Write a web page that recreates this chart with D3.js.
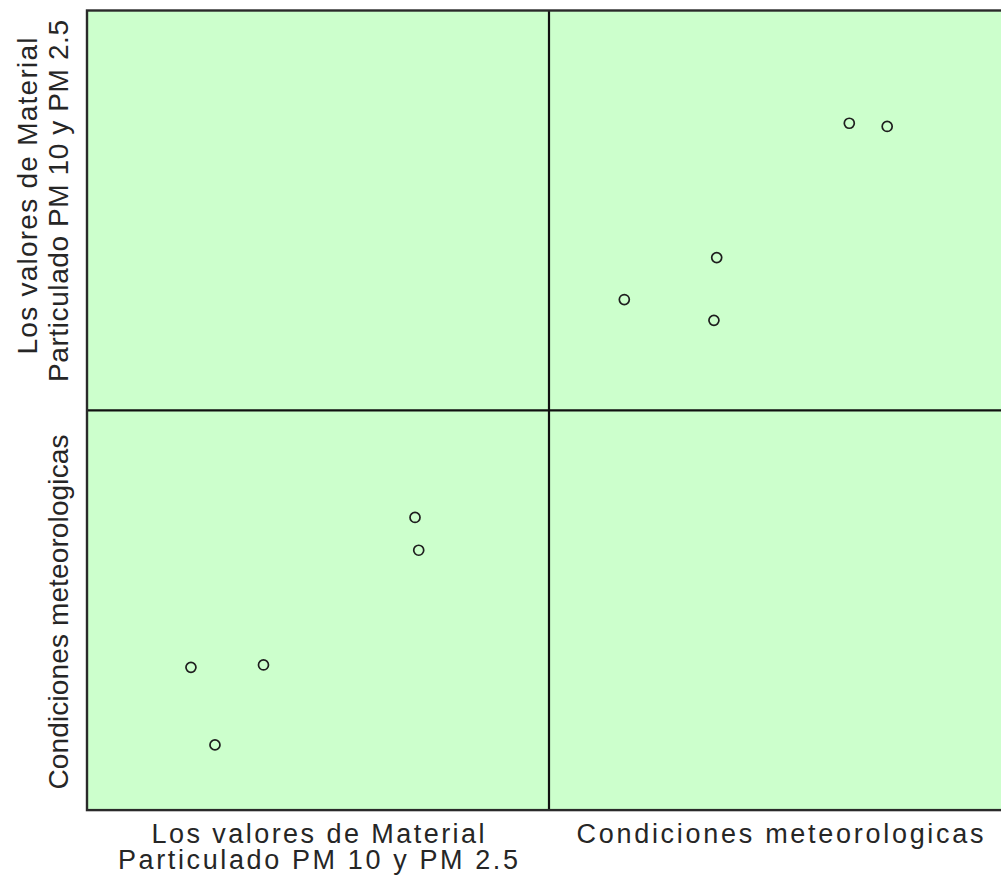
<!DOCTYPE html>
<html>
<head>
<meta charset="utf-8">
<script src="https://cdn.jsdelivr.net/npm/d3@7"></script>
<style>
  html, body { margin: 0; padding: 0; background: #ffffff; }
  svg { display: block; }
  text { font-family: "Liberation Sans", Arial, sans-serif; fill: #262626; }
</style>
</head>
<body>
<svg id="chart" width="1001" height="876"></svg>
<script>
// ---- data ----
const variableNames = ["pm", "cond"];
const variableLabels = [
  ["Los valores de Material", "Particulado PM 10 y PM 2.5"],
  ["Condiciones meteorologicas"]
];
const pmValues   = [71.8, 71.0, 38.2, 27.7, 22.5];
const condValues = [65.0, 73.2, 36.3, 16.3, 35.7];
const valueDomain = [0, 100];

// ---- layout ----
const svg = d3.select("#chart");
const gridLeft = 87, gridTop = 10.5, cellW = 462, cellH = 399.8;
const n = variableNames.length;
const series = [pmValues, condValues];

// background
svg.append("rect")
  .attr("x", gridLeft).attr("y", gridTop)
  .attr("width", cellW * n).attr("height", cellH * n)
  .attr("fill", "#ccffcc");

// cells
for (let row = 0; row < n; row++) {
  for (let col = 0; col < n; col++) {
    if (row === col) continue;
    const x0 = gridLeft + col * cellW, y0 = gridTop + row * cellH;
    const xs = d3.scaleLinear().domain(valueDomain).range([x0, x0 + cellW]);
    const ys = d3.scaleLinear().domain(valueDomain).range([y0 + cellH, y0]);
    const pts = series[col].map((v, i) => ({ x: v, y: series[row][i] }));
    svg.append("g").selectAll("circle").data(pts).join("circle")
      .attr("cx", d => xs(d.x))
      .attr("cy", d => ys(d.y))
      .attr("r", 5)
      .attr("fill", "none")
      .attr("stroke", "#1e1e1e")
      .attr("stroke-width", 1.7);
  }
}

// grid dividers
for (let k = 1; k < n; k++) {
  svg.append("line")
    .attr("x1", gridLeft + k * cellW).attr("x2", gridLeft + k * cellW)
    .attr("y1", gridTop).attr("y2", gridTop + n * cellH)
    .attr("stroke", "#111").attr("stroke-width", 2.2);
  svg.append("line")
    .attr("x1", gridLeft).attr("x2", gridLeft + n * cellW)
    .attr("y1", gridTop + k * cellH).attr("y2", gridTop + k * cellH)
    .attr("stroke", "#111").attr("stroke-width", 2.2);
}
// frame
svg.append("rect")
  .attr("x", gridLeft).attr("y", gridTop)
  .attr("width", cellW * n).attr("height", cellH * n)
  .attr("fill", "none").attr("stroke", "#2a2a2a").attr("stroke-width", 2.4);

// bottom labels (one text element per label, lines as tspans)
const bottomLens = [[333, 400], [407]];
const bottomBase = 843, bottomLineStep = 26;
variableLabels.forEach((lines, i) => {
  const cx = gridLeft + (i + 0.5) * cellW;
  const t = svg.append("text")
    .attr("x", cx).attr("y", bottomBase)
    .attr("text-anchor", "middle")
    .attr("font-size", 27);
  lines.forEach((s, j) => {
    t.append("tspan")
      .attr("x", cx).attr("y", bottomBase + j * bottomLineStep)
      .attr("textLength", bottomLens[i][j])
      .attr("lengthAdjust", "spacing")
      .text(s);
  });
});

// left labels (rotated)
const leftLens = [[317, 362], [355]];
const leftCenters = [[196, 201], [612]];
const leftBase = [[37, 68], [68]];
variableLabels.forEach((lines, i) => {
  const t = svg.append("text")
    .attr("transform", `rotate(-90)`)
    .attr("text-anchor", "middle")
    .attr("font-size", 28);
  lines.forEach((s, j) => {
    // in rotated frame: x = -y, y = x
    t.append("tspan")
      .attr("x", -leftCenters[i][j]).attr("y", leftBase[i][j])
      .attr("textLength", leftLens[i][j])
      .attr("lengthAdjust", "spacing")
      .text(s);
  });
});
</script>
</body>
</html>
